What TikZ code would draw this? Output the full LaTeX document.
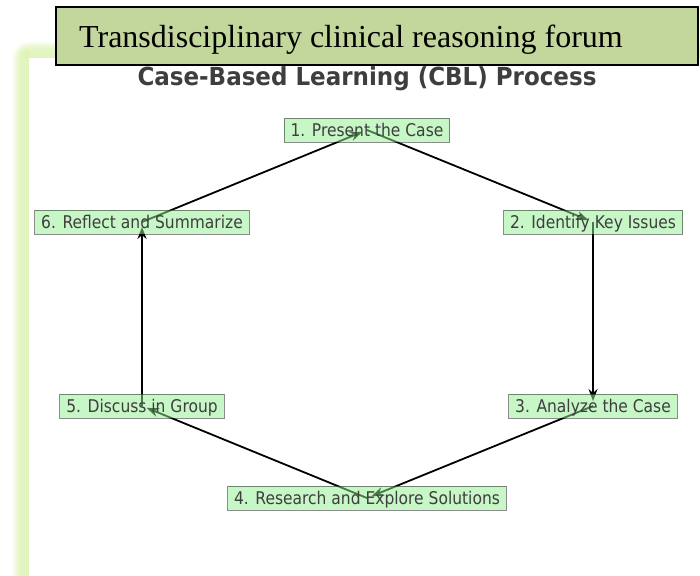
\documentclass[tikz,border=0pt]{standalone}
\usepackage{fontspec}
\usepackage{graphicx}
\setmainfont{Liberation Serif}
\newfontfamily\dvs{DejaVu Sans}
\usetikzlibrary{arrows.meta}

\definecolor{glowgreen}{RGB}{222,243,182}
\definecolor{bannerfill}{RGB}{195,214,155}
\definecolor{stepfill}{RGB}{144,238,144}
\definecolor{inkgray}{RGB}{62,62,62}

% step labels are set slightly tall
\newcommand{\steptext}[1]{\scalebox{1}[1.13]{#1}}

\tikzset{
  stepbox/.style={draw=black, draw opacity=0.45, line width=1pt,
    fill=stepfill, fill opacity=0.5, text opacity=1, text=inkgray,
    font=\dvs\fontsize{15.5}{18}\selectfont,
    inner xsep=6.5pt, inner ysep=0pt, minimum height=24pt,
    text height=14pt, text depth=1.5pt, anchor=center},
  flow/.style={line width=1.8pt, black, shorten >=5pt,
    -{Stealth[length=12pt,width=9pt]}},
  banner/.style={draw=black, line width=1.3pt, fill=bannerfill}
}

\begin{document}
\begin{tikzpicture}[x=1pt,y=-1pt]
\useasboundingbox (0,0) rectangle (700,575);

% soft green glow along the left and top edges of the white panel
\foreach \d in {0,...,16}{
  \pgfmathsetmacro{\op}{\d<8 ? 1 : max(0,1-(\d-7)/10)}
  \draw[glowgreen, line width=1.2pt, opacity=\op, rounded corners=\d pt]
    (29-\d,580) -- (29-\d,58-\d) -- (710,58-\d);
}
\fill[white] (29,58) rectangle (710,580);

% heading banner
\draw[banner] (56,7) rectangle (698,65);
\node[anchor=base west, inner sep=0pt, font=\fontsize{32}{36}\selectfont]
  (banner) at (79,48) {Transdisciplinary clinical reasoning forum};

% chart title
\node[anchor=base, inner sep=0pt, text=inkgray,
  font=\dvs\bfseries\fontsize{23}{26}\selectfont]
  (title) at (367,85) {\scalebox{1}[1.08]{Case-Based Learning (CBL) Process}};

% step positions
\coordinate (p1) at (367,130);
\coordinate (p2) at (593,222);
\coordinate (p3) at (593,406);
\coordinate (p4) at (367,498);
\coordinate (p5) at (142,406);
\coordinate (p6) at (142,222);

% cycle connectors (drawn beneath the translucent boxes)
\draw[flow] (p1) -- (p2);
\draw[flow] (p2) -- (p3);
\draw[flow] (p3) -- (p4);
\draw[flow] (p4) -- (p5);
\draw[flow] (p5) -- (p6);
\draw[flow] (p6) -- (p1);

% step boxes
\node[stepbox] (s1) at (p1) {\steptext{1. Present the Case}};
\node[stepbox] (s2) at (p2) {\steptext{2. Identify Key Issues}};
\node[stepbox] (s3) at (p3) {\steptext{3. Analyze the Case}};
\node[stepbox] (s4) at (p4) {\steptext{4. Research and Explore Solutions}};
\node[stepbox] (s5) at (p5) {\steptext{5. Discuss in Group}};
\node[stepbox] (s6) at (p6) {\steptext{6. Reflect and Summarize}};
\end{tikzpicture}
\end{document}
